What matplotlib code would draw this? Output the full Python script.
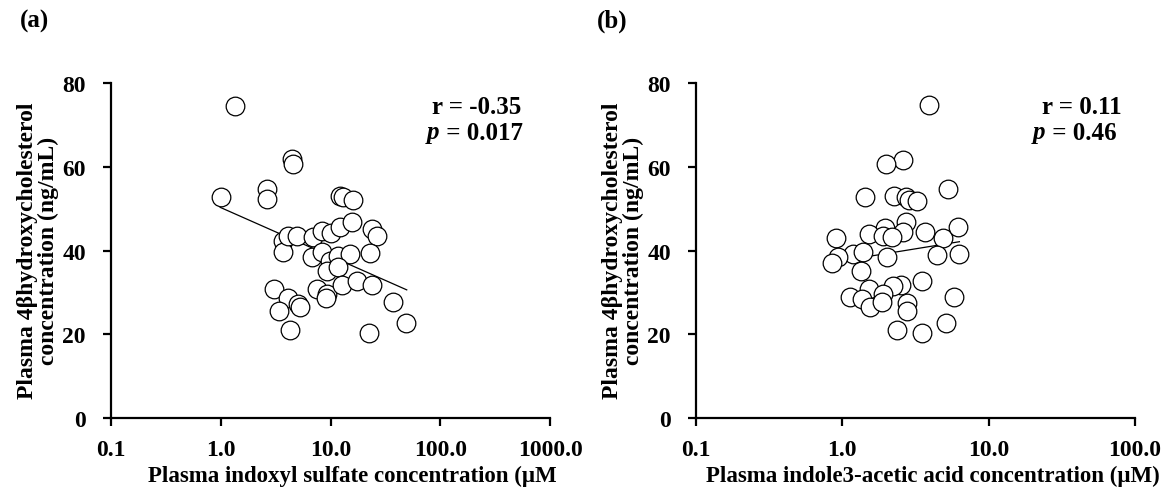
import matplotlib
matplotlib.use("Agg")
import matplotlib.pyplot as plt
import numpy as np
from matplotlib.transforms import Bbox, TransformedBbox

plt.rcParams['font.family'] = ['Liberation Serif', 'DejaVu Serif']
plt.rcParams['font.weight'] = 'bold'

# ---- panel (a) : indoxyl sulfate vs 4b-hydroxycholesterol ----
is_x = [1.35, 4.43, 4.59, 1.0, 2.62, 2.66, 12.2, 12.9, 16.2, 3.73, 3.73, 4.14,
        4.92, 6.98, 8.32, 10.0, 12.2, 15.6, 23.8, 26.7, 23.0, 6.75, 8.3, 9.9,
        11.6, 14.9, 9.25, 11.8, 3.08, 4.14, 5.1, 5.28, 3.42, 4.28, 7.48, 9.24,
        9.1, 12.6, 17.3, 23.8, 36.9, 48.8, 22.2]
is_y = [74.6, 61.9, 60.7, 52.7, 54.8, 52.3, 52.9, 52.7, 52.1, 42.3, 39.6, 43.5,
        43.5, 43.2, 44.7, 44.2, 45.5, 46.9, 45.1, 43.4, 39.4, 38.4, 39.6, 37.6,
        38.8, 39.2, 35.2, 36.0, 30.8, 28.6, 27.2, 26.4, 25.6, 21.1, 30.8, 29.6,
        28.6, 31.8, 32.6, 31.8, 27.6, 22.7, 20.3]
is_fit_x = [0.99, 49.5]
is_fit_y = [50.3, 30.6]

# ---- panel (b) : indole-3-acetic acid vs 4b-hydroxycholesterol ----
iaa_x = [3.94, 2.58, 1.99, 1.43, 2.27, 2.71, 2.87, 3.22, 5.30, 2.71, 1.96, 1.53,
         0.905, 2.61, 3.67, 4.85, 6.15, 1.89, 2.18, 1.19, 1.39, 0.94, 0.85, 2.01,
         4.42, 6.31, 1.34, 3.48, 2.51, 2.21, 1.53, 1.91, 1.13, 1.36, 1.55, 1.86,
         2.76, 2.76, 5.84, 5.09, 2.38, 3.48]
iaa_y = [74.7, 61.7, 60.7, 52.7, 52.9, 52.7, 52.1, 51.9, 54.7, 46.9, 45.3, 43.9,
         43.1, 44.3, 44.5, 42.9, 45.5, 43.5, 43.2, 39.2, 39.6, 38.4, 37.0, 38.5,
         38.9, 39.2, 35.2, 32.6, 31.8, 31.6, 30.8, 29.6, 29.0, 28.4, 26.6, 27.6,
         27.5, 25.6, 28.8, 22.6, 21.1, 20.3]
iaa_fit_x = [0.86, 6.31]
iaa_fit_y = [37.2, 42.1]

y_ticks = [0, 20, 40, 60, 80]
xt_a = [0.1, 1, 10, 100, 1000]
xt_a_lab = ['0.1', '1.0', '10.0', '100.0', '1000.0']
xt_b = [0.1, 1, 10, 100]
xt_b_lab = ['0.1', '1.0', '10.0', '100.0']

W, H = 1172, 489
fig = plt.figure(figsize=(W / 100, H / 100), dpi=100)
renderer = fig.canvas.get_renderer()


def make_axes(left_px, xs, ys, fx, fy, ticks, labels, xmax):
    ax = fig.add_axes([left_px / W, (H - 419) / H, 439 / W, 335 / H])
    ax.scatter(xs, ys, s=180, facecolor='white', edgecolor='black',
               linewidth=0.9, zorder=3, clip_on=False)
    ax.plot(fx, fy, color='black', lw=0.9, zorder=2)
    ax.set_xscale('log')
    ax.set_xlim(0.1, xmax)
    ax.set_ylim(0, 80)
    ax.set_xticks(ticks)
    ax.set_xticklabels(labels)
    ax.minorticks_off()
    ax.set_yticks(y_ticks)
    for s in ['top', 'right']:
        ax.spines[s].set_visible(False)
    for s in ['left', 'bottom']:
        ax.spines[s].set_linewidth(1.6)
    ax.tick_params(width=1.6, length=6, labelsize=17)
    ax.tick_params(axis='y', pad=12)
    ax.tick_params(axis='x', pad=9)
    for t in ax.get_xticklabels() + ax.get_yticklabels():
        t.set_fontweight('bold')
    return ax


ax1 = make_axes(111, is_x, is_y, is_fit_x, is_fit_y, xt_a, xt_a_lab, 1000)
ax2 = make_axes(696, iaa_x, iaa_y, iaa_fit_x, iaa_fit_y, xt_b, xt_b_lab, 100)

ylab = 'Plasma 4\u03b2hydroxycholesterol\nconcentration (ng/mL)'
fig.text(38 / W, 1 - 251 / H, ylab, rotation=90, ha='center', va='center',
         fontsize=17, fontweight='bold', linespacing=1.0)
fig.text(623 / W, 1 - 251 / H, ylab, rotation=90, ha='center', va='center',
         fontsize=17, fontweight='bold', linespacing=1.0)

xl1 = fig.text(148 / W, 1 - 476 / H, 'Plasma indoxyl sulfate concentration (\u00b5M)',
               ha='left', va='center', fontsize=16.5, fontweight='bold')
xl1.set_clip_box(TransformedBbox(Bbox([[0, 0], [556 / W, 1]]), fig.transFigure))
xl1.set_clip_on(True)
fig.text(706 / W, 1 - 476 / H, 'Plasma indole3-acetic acid concentration (\u00b5M)',
         ha='left', va='center', fontsize=16.5, fontweight='bold')


def p_line(x_px, y_px, rest):
    # italic p followed by the upright value
    tp = fig.text(x_px / W, 1 - y_px / H, 'p', ha='left', va='center',
                  fontsize=18, fontweight='bold', style='italic')
    bb = tp.get_window_extent(renderer)
    fig.text(bb.x1 / W, 1 - y_px / H, rest, ha='left', va='center',
             fontsize=18, fontweight='bold')


fig.text(521 / W, 1 - 108 / H, 'r = -0.35', ha='right', va='center',
         fontsize=18, fontweight='bold')
p_line(427, 133, ' = 0.017')

fig.text(1122 / W, 1 - 108 / H, 'r = 0.11', ha='right', va='center',
         fontsize=18, fontweight='bold')
p_line(1033, 133, ' = 0.46')

fig.text(20 / W, 1 - 21 / H, '(a)', ha='left', va='center', fontsize=18,
         fontweight='bold')
fig.text(597 / W, 1 - 21 / H, '(b)', ha='left', va='center', fontsize=18,
         fontweight='bold')

fig.savefig('out.png', dpi=100)
